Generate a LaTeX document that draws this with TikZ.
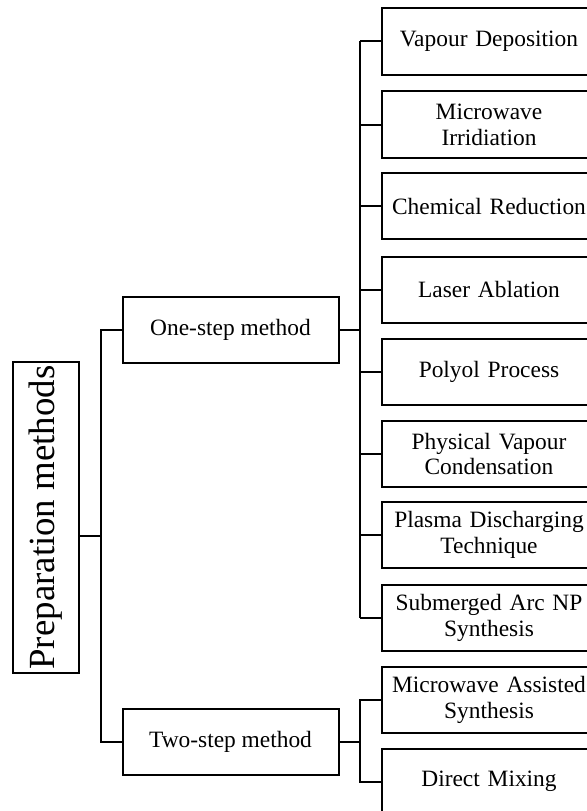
\documentclass[tikz,border=0pt]{standalone}
\usepackage{fontspec}
\setmainfont{Liberation Serif}
\usepackage{graphicx}
\usetikzlibrary{positioning, calc}

\tikzset{
	box/.style={draw, line width=2bp, align=center, inner sep=0pt},
	leaf/.style={box, minimum width=214bp, minimum height=66bp, text width=210bp,
		font=\fontsize{23.5}{26}\selectfont},
	branch/.style={box, minimum width=216bp, minimum height=66bp,
		font=\fontsize{23.5}{26}\selectfont},
	link/.style={line width=2bp}
}

\begin{document}
\begin{tikzpicture}[x=1bp, y=-1bp]
				\useasboundingbox (0,0) rectangle (587,811);
				\clip (0,0) rectangle (587,811);
				% root and the two branches
				\node[box, minimum width=66bp, minimum height=311bp,
					font=\fontsize{37}{40}\selectfont] (root) at (46,517.5)
					{\rotatebox{90}{Preparation methods}};
				\node[branch] (one) at (230.5,330) {One-step method};
				\node[branch] (two) at (230.5,741.5) {Two-step method};
				% leaves
				\foreach \n/\y/\t in {1/41.5/{Vapour Deposition},
					2/124.5/{Microwave\\Irridiation},
					3/206/{Chemical Reduction},
					4/289.5/{Laser Ablation},
					5/371.5/{Polyol Process},
					6/454/{Physical Vapour\\Condensation},
					7/535/{Plasma Discharging\\Technique},
					8/617.5/{Submerged Arc NP\\Synthesis}}
					{\node[leaf] (L\n) at (489,\y) {\t};}
				\node[leaf] (T1) at (489,699.5) {Microwave Assisted\\Synthesis};
				\node[leaf] (T2) at (489,781.5) {Direct Mixing};
				% connectors
				\coordinate (rj) at (101,536);
				\coordinate (tk) at (360,0);
				\draw[link] (root.east |- rj) -- (rj);
				\draw[link] (one.west) -| (rj) |- (two.west);
				\draw[link] (one.east) -- (one.east -| tk);
				\draw[link] (L1.west -| tk) -- (L8.west -| tk);
				\foreach \n in {1,...,8}{\draw[link] (L\n.west -| tk) -- (L\n.west);}
				\draw[link] (two.east) -- (two.east -| tk);
				\draw[link] (T1.west) -| (two.east -| tk) |- (T2.west);
			\end{tikzpicture}
\end{document}
